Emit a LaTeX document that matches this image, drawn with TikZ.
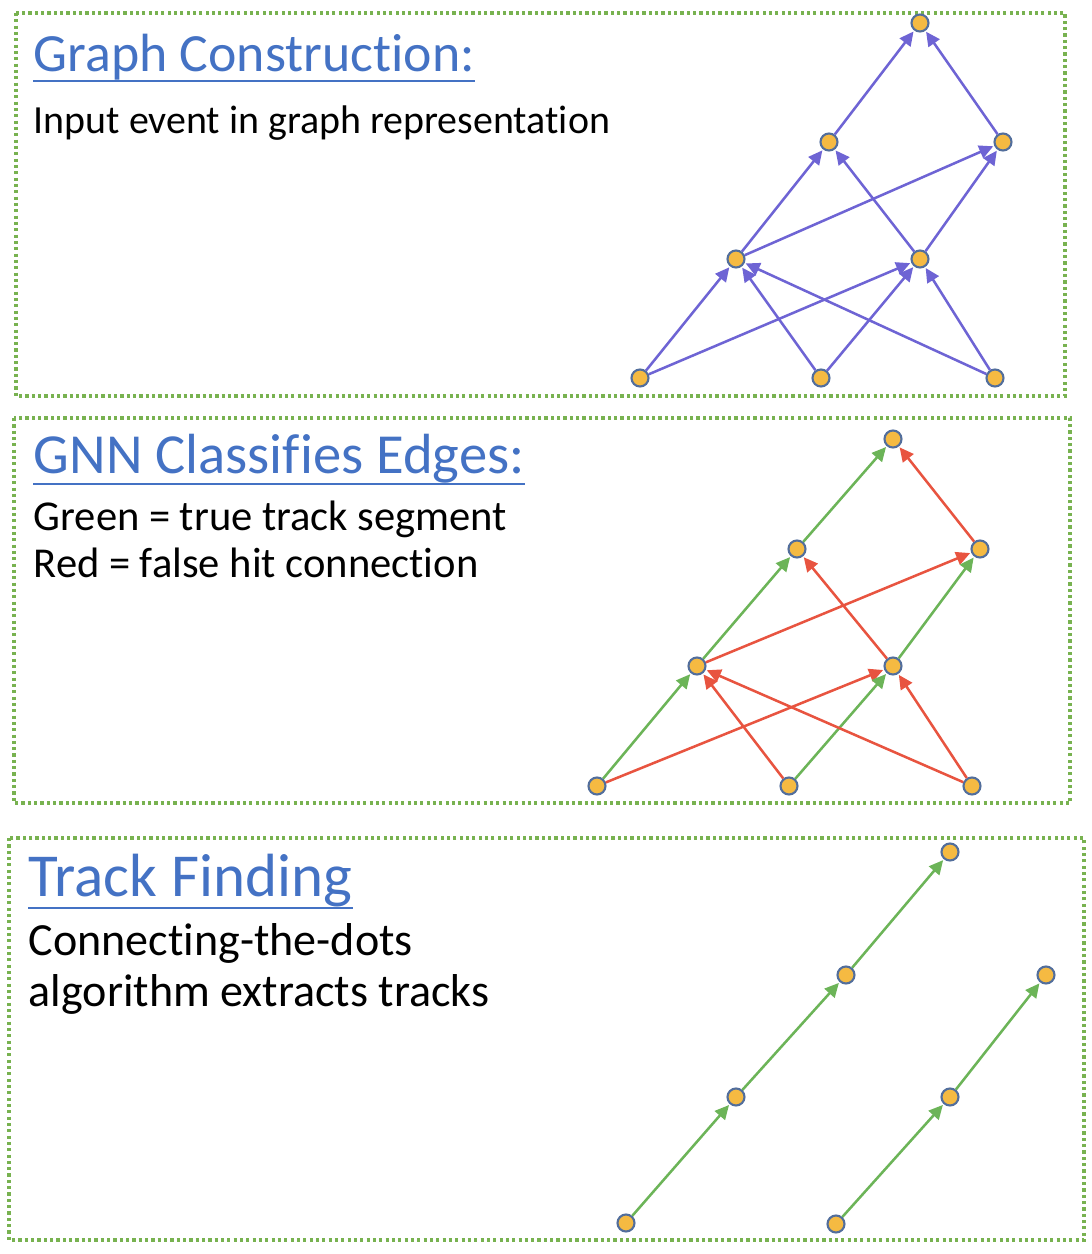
\documentclass[tikz,border=0pt]{standalone}
\usepackage{fontspec}
\setmainfont{Carlito}[Ligatures=NoCommon]
\usetikzlibrary{arrows.meta}
\definecolor{hitfill}{RGB}{245,186,66}
\definecolor{hitline}{RGB}{82,110,156}
\definecolor{edgeblue}{RGB}{110,100,212}
\definecolor{edgegreen}{RGB}{108,180,88}
\definecolor{edgered}{RGB}{232,84,64}
\definecolor{boxgreen}{RGB}{120,178,80}
\definecolor{titleblue}{RGB}{68,114,196}
\tikzset{
  hit/.style={circle,draw=hitline,fill=hitfill,line width=0.6pt,inner sep=0pt,minimum size=0.17cm},
  edge/.style={-{Triangle[length=4pt,width=3.8pt]},line width=0.72pt,shorten >=0.3pt},
  panel/.style={draw=boxgreen,line width=0.9pt,dash pattern=on 0.9pt off 0.9pt},
  title/.style={titleblue,anchor=south west,inner sep=0pt},
  uline/.style={titleblue,line width=0.7pt},
  body/.style={anchor=base west,inner sep=0pt}
}
\begin{document}
\begin{tikzpicture}[x=0.01cm,y=-0.01cm]
\useasboundingbox (0,0) rectangle (1092,1254);
% boxes
\draw[panel] (16,13) rectangle (1065,396);
\draw[panel] (14,418) rectangle (1070,803);
\draw[panel] (9,838) rectangle (1084,1240);
% texts
\node[title,font=\fontsize{15.3pt}{18pt}\selectfont] (t1) at (33,81) {Graph Construction:};
\draw[uline] (t1.south west) -- (t1.south east);
\node[body,font=\fontsize{11.35pt}{14pt}\selectfont] (d1) at (33,133) {Input event in graph representation};
\node[title,font=\fontsize{16.1pt}{19pt}\selectfont] (t2) at (33,484) {GNN Classifies Edges:};
\draw[uline] (t2.south west) -- (t2.south east);
\node[body,font=\fontsize{12.1pt}{14pt}\selectfont] (d2a) at (33,530) {Green = true track segment};
\node[body,font=\fontsize{12.1pt}{14pt}\selectfont] (d2b) at (33,577) {Red = false hit connection};
\node[title,font=\fontsize{17.35pt}{20pt}\selectfont] (t3) at (28,908) {Track Finding};
\draw[uline] (t3.south west) -- (t3.south east);
\node[body,font=\fontsize{13.1pt}{16pt}\selectfont] (d3a) at (28,955) {Connecting-the-dots};
\node[body,font=\fontsize{13.1pt}{16pt}\selectfont] (d3b) at (28,1006) {algorithm extracts tracks};

% graph construction
\node[hit] (ab1) at (640,378) {};
\node[hit] (ab2) at (821,378) {};
\node[hit] (ab3) at (995,378) {};
\node[hit] (al1) at (736,259) {};
\node[hit] (al2) at (920,259) {};
\node[hit] (am1) at (829,142) {};
\node[hit] (am2) at (1003,142) {};
\node[hit] (atop) at (920,23) {};
\draw[edge,edgeblue] (ab1) -- (al1);
\draw[edge,edgeblue] (ab1) -- (al2);
\draw[edge,edgeblue] (ab2) -- (al1);
\draw[edge,edgeblue] (ab2) -- (al2);
\draw[edge,edgeblue] (ab3) -- (al1);
\draw[edge,edgeblue] (ab3) -- (al2);
\draw[edge,edgeblue] (al1) -- (am1);
\draw[edge,edgeblue] (al1) -- (am2);
\draw[edge,edgeblue] (al2) -- (am1);
\draw[edge,edgeblue] (al2) -- (am2);
\draw[edge,edgeblue] (am1) -- (atop);
\draw[edge,edgeblue] (am2) -- (atop);

% classified edges
\node[hit] (bb1) at (597,786) {};
\node[hit] (bb2) at (789,786) {};
\node[hit] (bb3) at (972,786) {};
\node[hit] (bl1) at (697,666) {};
\node[hit] (bl2) at (893,666) {};
\node[hit] (bm1) at (797,549) {};
\node[hit] (bm2) at (980,549) {};
\node[hit] (btop) at (893,439) {};
\draw[edge,edgegreen] (bb1) -- (bl1);
\draw[edge,edgered] (bb1) -- (bl2);
\draw[edge,edgered] (bb2) -- (bl1);
\draw[edge,edgegreen] (bb2) -- (bl2);
\draw[edge,edgered] (bb3) -- (bl1);
\draw[edge,edgered] (bb3) -- (bl2);
\draw[edge,edgegreen] (bl1) -- (bm1);
\draw[edge,edgered] (bl1) -- (bm2);
\draw[edge,edgered] (bl2) -- (bm1);
\draw[edge,edgegreen] (bl2) -- (bm2);
\draw[edge,edgegreen] (bm1) -- (btop);
\draw[edge,edgered] (bm2) -- (btop);

% found tracks
\node[hit] (c1a) at (626,1223) {};
\node[hit] (c1b) at (736,1097) {};
\node[hit] (c1c) at (846,975) {};
\node[hit] (c1d) at (950,852) {};
\node[hit] (c2a) at (836,1224) {};
\node[hit] (c2b) at (950,1097) {};
\node[hit] (c2c) at (1046,975) {};
\draw[edge,edgegreen] (c1a) -- (c1b);
\draw[edge,edgegreen] (c1b) -- (c1c);
\draw[edge,edgegreen] (c1c) -- (c1d);
\draw[edge,edgegreen] (c2a) -- (c2b);
\draw[edge,edgegreen] (c2b) -- (c2c);
\end{tikzpicture}
\end{document}
